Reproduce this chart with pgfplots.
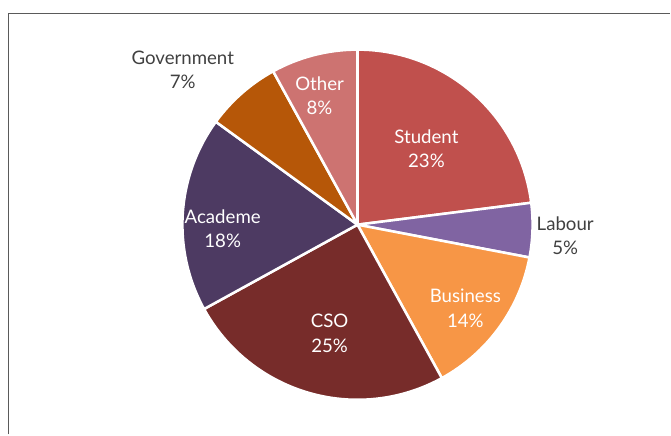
\documentclass[border=0pt]{standalone}
\usepackage{fontspec}
\setmainfont{Lato}
\usepackage{pgfplots}
\usepackage{pgfplotstable}
\pgfplotsset{compat=1.18}
\definecolor{cStudent}{HTML}{C0504D}
\definecolor{cLabour}{HTML}{8064A2}
\definecolor{cBusiness}{HTML}{F79646}
\definecolor{cCSO}{HTML}{772C2A}
\definecolor{cAcademe}{HTML}{4D3A62}
\definecolor{cGov}{HTML}{B65708}
\definecolor{cOther}{HTML}{CD7371}
\definecolor{tgray}{HTML}{404040}
\definecolor{frameg}{HTML}{5A5A5A}
\newcommand\labelfont{\fontsize{14}{18.5}\selectfont}
\pgfplotstableread{
name pct fillc txtc lx ly
Student 23 cStudent white 427 149
Labour 5 cLabour tgray 566 236
Business 14 cBusiness white 466 309
CSO 25 cCSO white 330 334
Academe 18 cAcademe white 223 229
Government 7 cGov tgray 183 70
Other 8 cOther white 320 96
}\piedata
\begin{document}
\begin{tikzpicture}
\begin{axis}[x=0.75pt,y=0.75pt,y dir=reverse,xmin=0,xmax=671,ymin=0,ymax=435,
  hide axis,clip=false,scale only axis]
\path (axis cs:0,0) rectangle (axis cs:671,435);
\draw[color=frameg,line width=1.4pt] (axis cs:8.5,435) -- (axis cs:8.5,13.5) -- (axis cs:671,13.5);
\xdef\cum{90}
\pgfplotsforeachungrouped \i in {0,...,6}{%
  \pgfplotstablegetelem{\i}{pct}\of\piedata \xdef\p{\pgfplotsretval}%
  \pgfplotstablegetelem{\i}{fillc}\of\piedata \xdef\fc{\pgfplotsretval}%
  \pgfmathsetmacro\endang{\cum-3.6*\p}%
  \edef\temp{\noexpand\filldraw[fill=\fc,draw=white,line width=1.9pt,line join=round]
    (axis cs:358,225) -- ++(\cum:131.5pt) arc[start angle=\cum,end angle=\endang,radius=131.5pt] -- cycle;}%
  \temp
  \xdef\cum{\endang}%
}
\pgfplotsforeachungrouped \i in {0,...,6}{%
  \pgfplotstablegetelem{\i}{pct}\of\piedata \xdef\p{\pgfplotsretval}%
  \pgfplotstablegetelem{\i}{name}\of\piedata \xdef\nm{\pgfplotsretval}%
  \pgfplotstablegetelem{\i}{txtc}\of\piedata \xdef\tc{\pgfplotsretval}%
  \pgfplotstablegetelem{\i}{lx}\of\piedata \xdef\lx{\pgfplotsretval}%
  \pgfplotstablegetelem{\i}{ly}\of\piedata \xdef\ly{\pgfplotsretval}%
  \edef\temp{\noexpand\node[align=center,text=\tc,font=\noexpand\labelfont,inner sep=0pt]
    at (axis cs:\lx,\ly) {\nm\noexpand\\\p\noexpand\%};}%
  \temp
}
\end{axis}
\end{tikzpicture}
\end{document}
